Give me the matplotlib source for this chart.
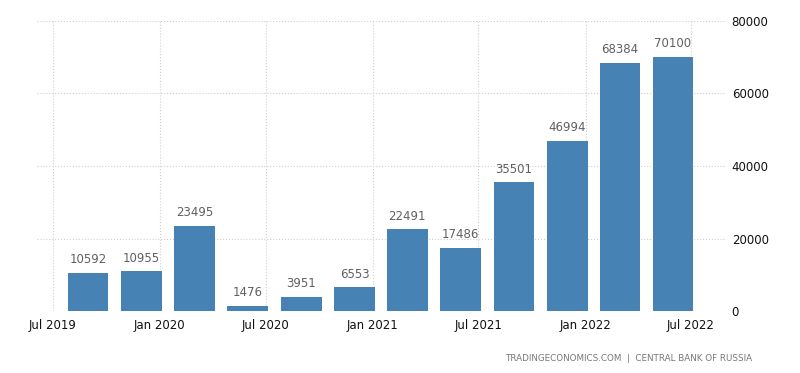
import matplotlib.pyplot as plt
import matplotlib.dates as mdates
import numpy as np
import datetime as dt

# DATA
# -----------
quarters = ["2019-09-30", "2019-12-31", "2020-03-31", "2020-06-30",
            "2020-09-30", "2020-12-31", "2021-03-31", "2021-06-30",
            "2021-09-30", "2021-12-31", "2022-03-31", "2022-06-30"]
values = [10592, 10955, 23495, 1476, 3951, 6553, 22491, 17486,
          35501, 46994, 68384, 70100]
tick_dates = ["2019-07-01", "2020-01-01", "2020-07-01", "2021-01-01",
              "2021-07-01", "2022-01-01", "2022-07-01"]
tick_labels = ["Jul 2019", "Jan 2020", "Jul 2020", "Jan 2021",
               "Jul 2021", "Jan 2022", "Jul 2022"]
y_ticks = [0, 20000, 40000, 60000, 80000]

dates = [dt.datetime.strptime(d, "%Y-%m-%d") for d in quarters]
ticks = [dt.datetime.strptime(d, "%Y-%m-%d") for d in tick_dates]

# PLOT
# -----------
fig = plt.figure(figsize=(8, 3.73), dpi=100)
ax = fig.add_axes([0.046, 0.166, 0.86, 0.778])

bar_x = [d - dt.timedelta(days=30) for d in dates]  # bars sit inside their quarter
bars = ax.bar(bar_x, values, width=70, color='#4682b4', zorder=3)

for x, v in zip(bar_x, values):
    ax.text(x, v + 1800, str(v), ha='center', va='bottom',
            fontsize=8.5, color='#606060', zorder=4)

ax.set_xlim(dt.datetime(2019, 6, 4), dt.datetime(2022, 8, 28))
ax.set_ylim(0, 80000)
ax.set_xticks(ticks)
ax.set_xticklabels(tick_labels)
ax.set_yticks(y_ticks)

ax.yaxis.tick_right()
ax.tick_params(axis='both', length=0, labelsize=8.5, colors='#111111')
ax.tick_params(axis='y', pad=5)
ax.tick_params(axis='x', pad=6)

ax.grid(True, color='#d0d0d0', linestyle=':', linewidth=0.8, zorder=0)
for s in ax.spines.values():
    s.set_visible(False)

fig.text(0.94, 0.04, "TRADINGECONOMICS.COM  |  CENTRAL BANK OF RUSSIA",
         ha='right', va='center', fontsize=6.3, color='#777777')

fig.savefig("out.png", dpi=100)
